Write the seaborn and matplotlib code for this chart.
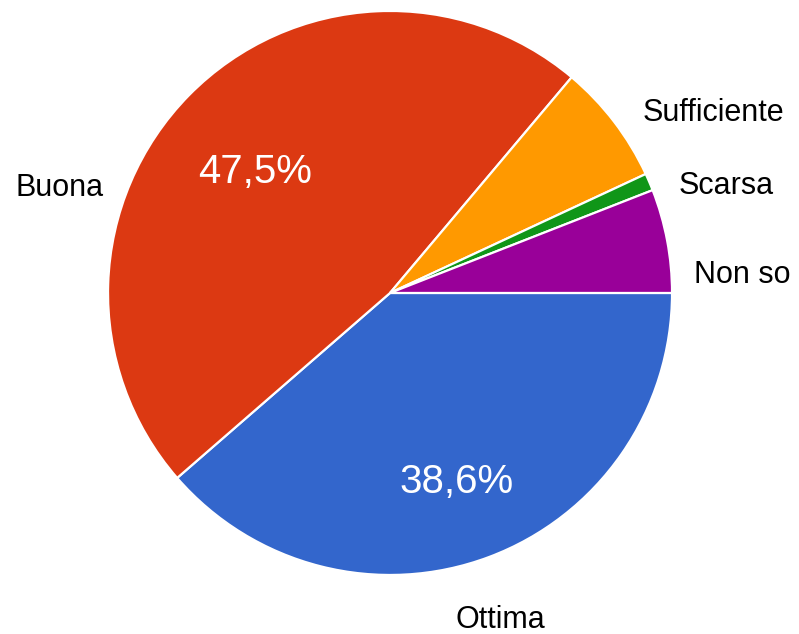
import matplotlib
matplotlib.use("Agg")
import matplotlib.pyplot as plt
import seaborn as sns

sns.set_theme(style="white")
plt.rcParams['font.family'] = ['Liberation Sans', 'DejaVu Sans']

# data (responses)
categories = ["Ottima", "Buona", "Sufficiente", "Scarsa", "Non so"]
counts = [39, 48, 7, 1, 6]
colors = sns.color_palette(["#3366CC", "#DC3912", "#FF9900", "#109618", "#990099"])

# label placement (in pie radius units): x, baseline y, alignment
label_x = [0.392, -1.014, 0.896, 1.025, 1.078]
label_y = [-1.188, 0.344, 0.611, 0.351, 0.035]
label_ha = ["center", "right", "left", "left", "left"]


def pct_fmt(p):
    # only the large slices get a percentage inside
    if p < 10:
        return ""
    return f"{p:.1f}%".replace(".", ",")


fig = plt.figure(figsize=(7.99, 6.34), dpi=100)
ax = fig.add_axes([0.1352, 0.0931, 0.7059, 0.8896])

wedges, texts, autotexts = ax.pie(
    counts,
    colors=colors,
    startangle=0,
    counterclock=False,
    autopct=pct_fmt,
    pctdistance=0.67,
    wedgeprops=dict(edgecolor="white", linewidth=1.6),
    textprops=dict(color="white", fontsize=29),
)
for t in autotexts:
    t.set_va("center_baseline")
    x, y = t.get_position()
    t.set_position((x, y - 0.028))

for name, x, y, ha in zip(categories, label_x, label_y, label_ha):
    ax.text(x, y, name, ha=ha, va="baseline", fontsize=22, color="#000000")

ax.set_xlim(-1, 1)
ax.set_ylim(-1, 1)
ax.set_aspect("equal")
ax.axis("off")

plt.savefig("out.png", dpi=100)
